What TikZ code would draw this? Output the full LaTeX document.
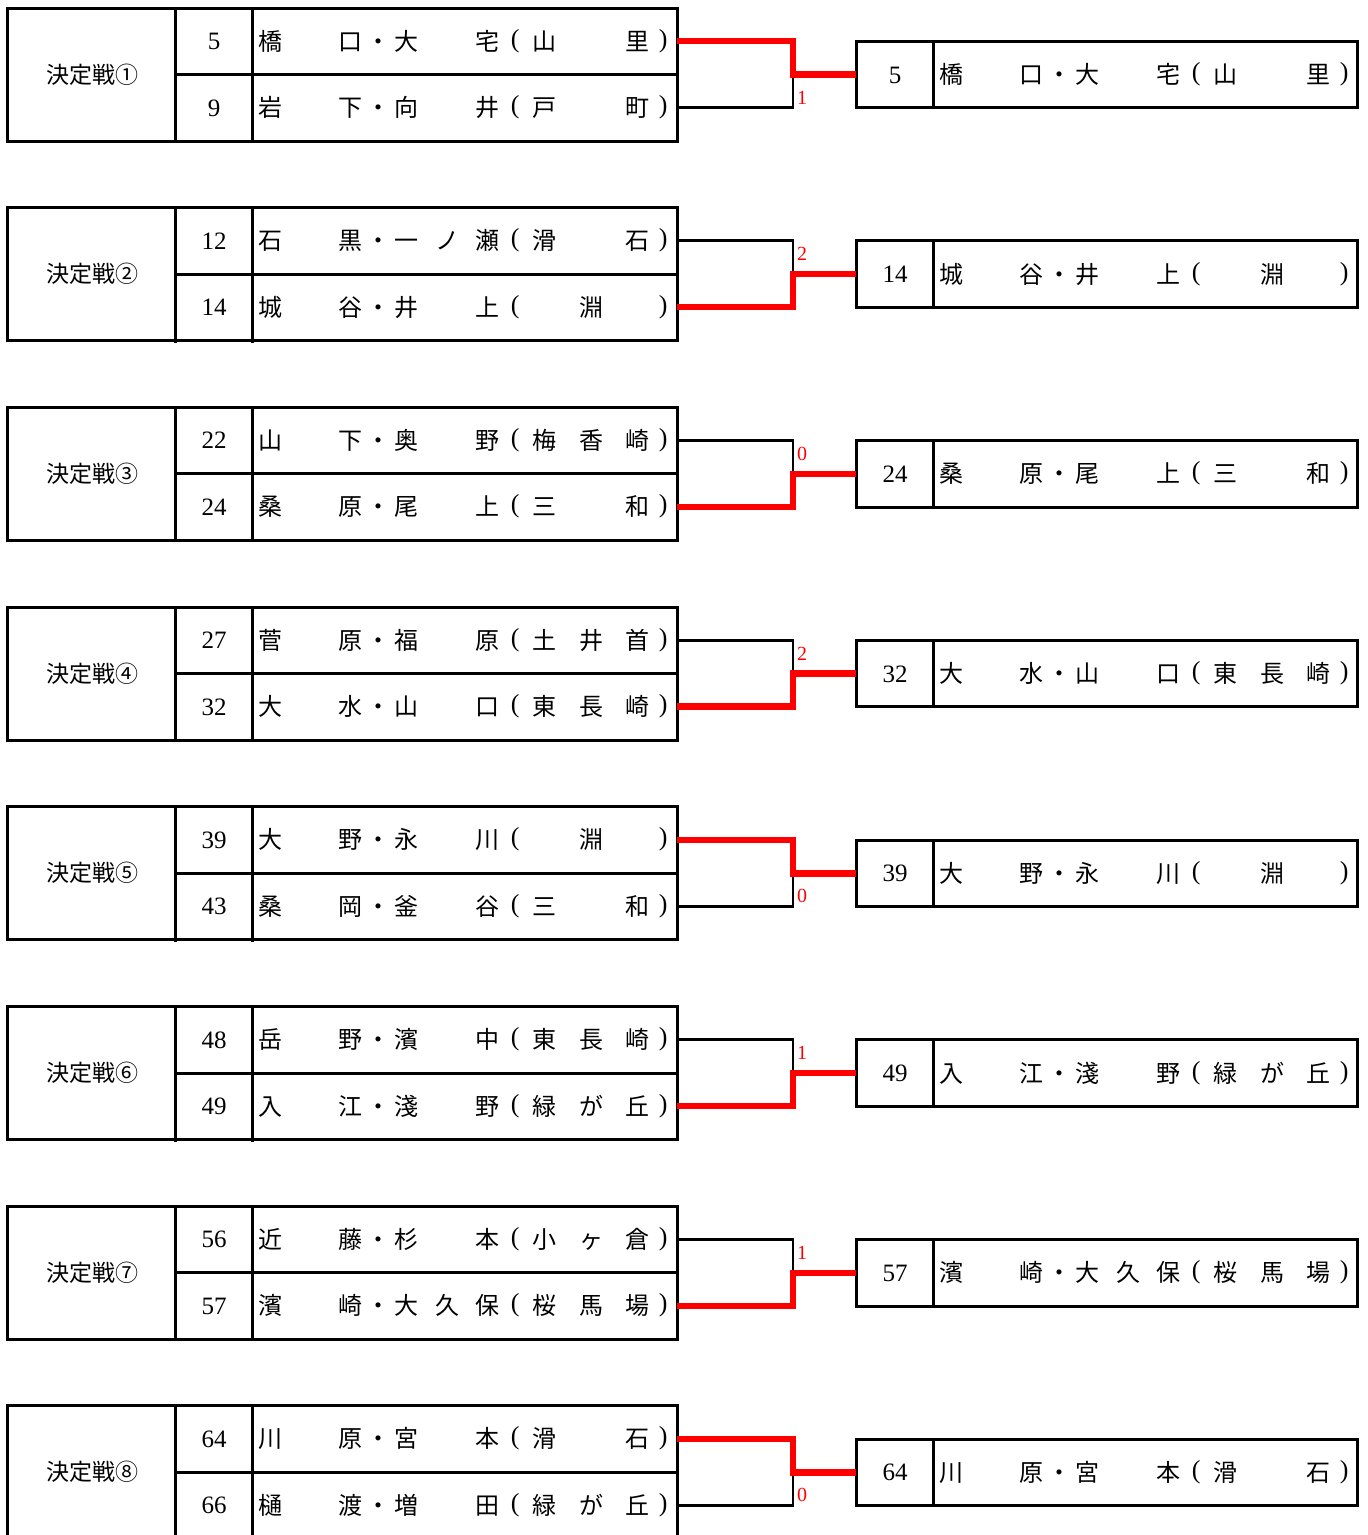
\documentclass[tikz,border=0pt]{standalone}
\usepackage{fontspec}
\setmainfont{Liberation Serif}
\newfontfamily\cj{Noto Sans CJK JP}
\newcommand\cjn{\cj\fontsize{24}{24}\selectfont}
\newcommand\prn[1]{\raisebox{3pt}{\rmfamily\fontsize{26}{26}\selectfont #1}}
\newcommand\nm[8]{\hbox{\cjn\makebox[0pt]{#1}\hspace{80pt}\makebox[0pt]{#2}\hspace{28pt}\makebox[0pt]{・}\hspace{28pt}\makebox[0pt]{#3}\hspace{41pt}\makebox[0pt]{#4}\hspace{40pt}\makebox[0pt]{#5}\hspace{28pt}\makebox[0pt]{\prn(}\hspace{29pt}\makebox[0pt]{#6}\hspace{47pt}\makebox[0pt]{#7}\hspace{46pt}\makebox[0pt]{#8}\hspace{26pt}\makebox[0pt]{\prn)}}}
\newcommand\circn[1]{\ifcase#1\or ①\or ②\or ③\or ④\or ⑤\or ⑥\or ⑦\or ⑧\fi}
\tikzset{
  frame/.style={draw=black,line width=3pt},
  loser/.style={draw=black,line width=2.8pt},
  winner/.style={draw=red,line width=6.5pt},
  rbox/.style={draw=black,line width=3pt,minimum width=501pt,minimum height=66.5pt,inner sep=0pt,outer sep=0pt},
  lbl/.style={anchor=base,inner sep=0pt,font=\cj\fontsize{23}{23}\selectfont},
  num/.style={anchor=base,inner sep=0pt,font=\fontsize{25}{25}\selectfont},
  nam/.style={anchor=base west,inner sep=0pt},
  score/.style={anchor=base west,inner sep=0pt,text=red,font=\fontsize{20}{20}\selectfont}
}
\newcommand\match[7]{%
  \pgfmathsetmacro\mT{8+199.71*(#1-1)}%
  \pgfmathsetmacro\ya{\mT+33}%
  \pgfmathsetmacro\yb{\mT+99.5}%
  \pgfmathsetmacro\ym{\mT+66.5}%
  \draw[frame] (7,\mT) rectangle (677,\mT+133);
  \draw[frame] (175,\mT) -- (175,\mT+135) (252,\mT) -- (252,\mT+135) (175,\ym) -- (679,\ym);
  \node[lbl] (lab#1) at (92,\ym+8.5) {決定戦\circn{#1}};
  \node[num] (na#1) at (214,\ya+8.5) {#2};
  \node[nam] (ma#1) at (270,\ya+9) {#3};
  \node[num] (nb#1) at (214,\yb+8.5) {#4};
  \node[nam] (mb#1) at (270,\yb+9) {#5};
  \node[rbox] (rb#1) at (1106.5,\ym) {};
  \draw[frame] (933,\ya) -- (933,\yb);
  \coordinate (ta#1) at (677,\ya);
  \coordinate (tb#1) at (677,\yb);
  \coordinate (j#1) at (793,\ym);
  \ifx t#6
    \draw[loser] (tb#1) -| (j#1);
    \draw[winner] (ta#1) -| (j#1) -- (rb#1.west);
    \node[score] (sc#1) at (797,\mT+96) {#7};
    \node[num] (wn#1) at (895,\ym+8.5) {#2};
    \node[nam] (wm#1) at (951,\ym+9) {#3};
  \else
    \draw[loser] (ta#1) -| (j#1);
    \draw[winner] (tb#1) -| (j#1) -- (rb#1.west);
    \node[score] (sc#1) at (797,\mT+53) {#7};
    \node[num] (wn#1) at (895,\ym+8.5) {#4};
    \node[nam] (wm#1) at (951,\ym+9) {#5};
  \fi
}
\begin{document}
\begin{tikzpicture}[x=1pt,y=-1pt]
\useasboundingbox (0,0) rectangle (1368,1535);
\match{1}{5}{\nm{橋}{口}{大}{}{宅}{山}{}{里}}{9}{\nm{岩}{下}{向}{}{井}{戸}{}{町}}{t}{1}
\match{2}{12}{\nm{石}{黒}{一}{ノ}{瀬}{滑}{}{石}}{14}{\nm{城}{谷}{井}{}{上}{}{淵}{}}{b}{2}
\match{3}{22}{\nm{山}{下}{奥}{}{野}{梅}{香}{崎}}{24}{\nm{桑}{原}{尾}{}{上}{三}{}{和}}{b}{0}
\match{4}{27}{\nm{菅}{原}{福}{}{原}{土}{井}{首}}{32}{\nm{大}{水}{山}{}{口}{東}{長}{崎}}{b}{2}
\match{5}{39}{\nm{大}{野}{永}{}{川}{}{淵}{}}{43}{\nm{桑}{岡}{釜}{}{谷}{三}{}{和}}{t}{0}
\match{6}{48}{\nm{岳}{野}{濱}{}{中}{東}{長}{崎}}{49}{\nm{入}{江}{淺}{}{野}{緑}{が}{丘}}{b}{1}
\match{7}{56}{\nm{近}{藤}{杉}{}{本}{小}{ヶ}{倉}}{57}{\nm{濱}{崎}{大}{久}{保}{桜}{馬}{場}}{b}{1}
\match{8}{64}{\nm{川}{原}{宮}{}{本}{滑}{}{石}}{66}{\nm{樋}{渡}{増}{}{田}{緑}{が}{丘}}{t}{0}
\end{tikzpicture}
\end{document}
